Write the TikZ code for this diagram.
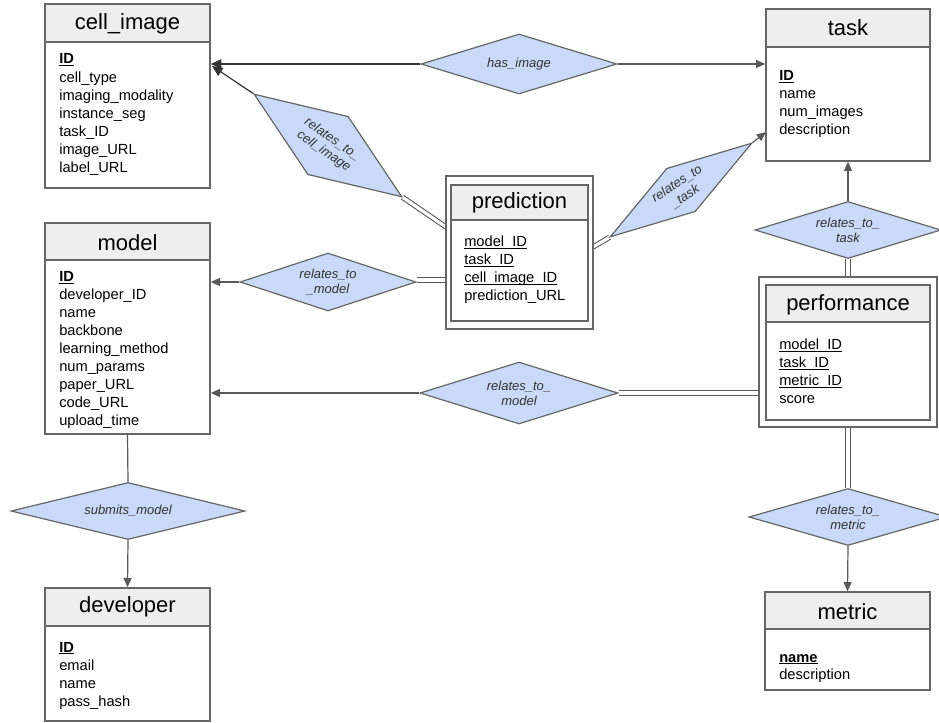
\documentclass[tikz,border=0pt]{standalone}
\usepackage{fontspec}
\setmainfont{Liberation Sans}
\usetikzlibrary{shapes.geometric,arrows.meta,calc}
\definecolor{bordergray}{HTML}{666666}
\definecolor{linegray}{HTML}{595959}
\definecolor{darkline}{HTML}{333333}
\definecolor{headfill}{HTML}{EEEEEE}
\definecolor{relfill}{HTML}{C9DAF8}
\pgfdeclarelayer{bg}
\pgfsetlayers{bg,main}
\newcommand\ulx[1]{\setbox0\hbox{#1}\rlap{\rule[-1.8pt]{\wd0}{0.7pt}}\box0}
\newcommand\keyu[1]{\textbf{\ulx{#1}}}
\newcommand\entbox[6]{%
  \node[entbox, minimum width={(#4-#2)*0.75pt}, minimum height={(#5-#3)*0.75pt}] (#1) at ({(#2+#4)/2},{(#3+#5)/2}) {};
  \draw[headbox] (#2,#3) rectangle (#4,#6);
}
\begin{document}
\begin{tikzpicture}[x=0.75pt,y=-0.75pt,
  entbox/.style={rectangle, draw=bordergray, line width=1pt, fill=white, inner sep=0},
  outerbox/.style={rectangle, draw=bordergray, line width=1pt, fill=white, inner sep=0},
  headbox/.style={draw=bordergray, line width=1pt, fill=headfill},
  ttl/.style={inner sep=0, font=\fontsize{16.5}{19}\selectfont},
  attr/.style={anchor=base west, inner sep=0, font=\fontsize{11}{13}\selectfont},
  rel/.style={diamond, aspect=3.2, draw=bordergray, line width=0.9pt, fill=relfill, inner sep=0,
    align=center, text=black!80, font=\fontsize{9.75}{11.2}\selectfont\itshape},
  conn/.style={draw=linegray, line width=0.9pt},
  arr/.style={conn, -{Triangle[length=7pt,width=6pt]}},
  darr/.style={draw=darkline, line width=0.9pt, -{Triangle[length=8pt,width=7pt]}},
  dbl/.style={draw=linegray, line width=0.8pt, double=white, double distance=2.4pt}]
\useasboundingbox (0,0) rectangle (939,723);

% ---------- cell_image
\entbox{ci}{45}{4}{210}{188}{42}
\node[ttl] (ci-t) at (127.5,24) {cell\_image};
\foreach \t [count=\i from 0] in {\keyu{ID}, cell\_type, imaging\_modality, instance\_seg, task\_ID, image\_URL, label\_URL}
  \node[attr] (ci-a\i) at (59,{64+18.1*\i}) {\t};

% ---------- task
\entbox{task}{766}{9}{930}{161}{47}
\node[ttl] (task-t) at (848,28) {task};
\foreach \t [count=\i from 0] in {\keyu{ID}, name, num\_images, description}
  \node[attr] (task-a\i) at (779,{81+18*\i}) {\t};

% ---------- model
\entbox{model}{45}{223}{210}{434}{260}
\node[ttl] (model-t) at (127.5,243) {model};
\foreach \t [count=\i from 0] in {\keyu{ID}, developer\_ID, name, backbone, learning\_method, num\_params, paper\_URL, code\_URL, upload\_time}
  \node[attr] (model-a\i) at (59,{282+18*\i}) {\t};

% ---------- developer
\entbox{dev}{45}{588}{210}{721}{626}
\node[ttl] (dev-t) at (127.5,607) {developer};
\foreach \t [count=\i from 0] in {\keyu{ID}, email, name, pass\_hash}
  \node[attr] (dev-a\i) at (59,{652+18*\i}) {\t};

% ---------- prediction (weak entity)
\node[outerbox, minimum width={147*0.75pt}, minimum height={153*0.75pt}] (pred) at (519.5,252.5) {};
\entbox{predin}{451}{185}{588}{321}{220}
\node[ttl] (pred-t) at (519.5,203) {prediction};
\foreach \t [count=\i from 0] in {\ulx{model\_ID}, \ulx{task\_ID}, \ulx{cell\_image\_ID}, prediction\_URL}
  \node[attr] (pred-a\i) at (464,{247+18*\i}) {\t};

% ---------- performance (weak entity)
\node[outerbox, minimum width={178*0.75pt}, minimum height={150*0.75pt}] (perf) at (848,352) {};
\entbox{perfin}{766}{285}{930}{420}{322}
\node[ttl] (perf-t) at (848,305) {performance};
\foreach \t [count=\i from 0] in {\ulx{model\_ID}, \ulx{task\_ID}, \ulx{metric\_ID}, score}
  \node[attr] (perf-a\i) at (779,{350+18*\i}) {\t};

% ---------- metric
\entbox{metric}{765}{592}{930}{690}{629}
\node[ttl] (metric-t) at (847.5,612) {metric};
\foreach \t [count=\i from 0] in {\keyu{name}, description}
  \node[attr] (metric-a\i) at (779,{662+17.5*\i}) {\t};

% ---------- relationships
\node[rel, minimum width={196*0.75pt}, minimum height={60*0.75pt}] (hi) at (519,64) {has\_image};
\node[rel, rotate=-34.8, minimum width={180*0.75pt}, minimum height={71*0.75pt}] (rc) at (328,145.5) {relates\_to\_\\cell\_image};
\node[rel, minimum width={176*0.75pt}, minimum height={58*0.75pt}] (rm1) at (328,282) {relates\_to\\\_model};
\node[rel, rotate=33.5, minimum width={170*0.75pt}, minimum height={52*0.75pt}] (rt1) at (681,190) {relates\_to\\\_task};
\node[rel, minimum width={186*0.75pt}, minimum height={57*0.75pt}] (rt2) at (848,230) {relates\_to\_\\task};
\node[rel, minimum width={198*0.75pt}, minimum height={62*0.75pt}] (rm2) at (519,393) {relates\_to\_\\model};
\node[rel, minimum width={198*0.75pt}, minimum height={57*0.75pt}] (rm3) at (848,517) {relates\_to\_\\metric};
\node[rel, minimum width={234*0.75pt}, minimum height={57*0.75pt}] (sm) at (128,511) {submits\_model};

% free ends on entity borders
\coordinate (ci-in) at (212,66);
\coordinate (pred-in) at (446,227);
\coordinate (pred-out) at (593,247);
\coordinate (task-in) at (766,132);

\begin{pgfonlayer}{bg}
\draw[darr] (hi.west) -- (hi.west -| ci.east);
\draw[arr] (hi.east) -- (hi.east -| task.west);
\draw[darr] (rc.west) -- (ci-in);
\draw[dbl] (rc.east) -- (pred-in);
\draw[arr] (rm1.west) -- (rm1.west -| model.east);
\draw[dbl] ([yshift=1.5pt]rm1.east) -- ([yshift=1.5pt]rm1.east -| pred.west);
\draw[dbl] (pred-out) -- (rt1.west);
\draw[arr] (rt1.east) -- (task-in);
\draw[arr] (rt2.north) -- (task.south);
\draw[dbl] (rt2.south) -- (perf.north);
\draw[arr] (rm2.west) -- (rm2.west -| model.east);
\draw[dbl] (rm2.east) -- (rm2.east -| perf.west);
\draw[dbl] (perf.south) -- (rm3.north);
\draw[arr] (rm3.south) -- (metric.north);
\draw[conn] (model.south) -- (sm.north);
\draw[arr] (sm.south) -- (dev.north);
\end{pgfonlayer}
\end{tikzpicture}
\end{document}
